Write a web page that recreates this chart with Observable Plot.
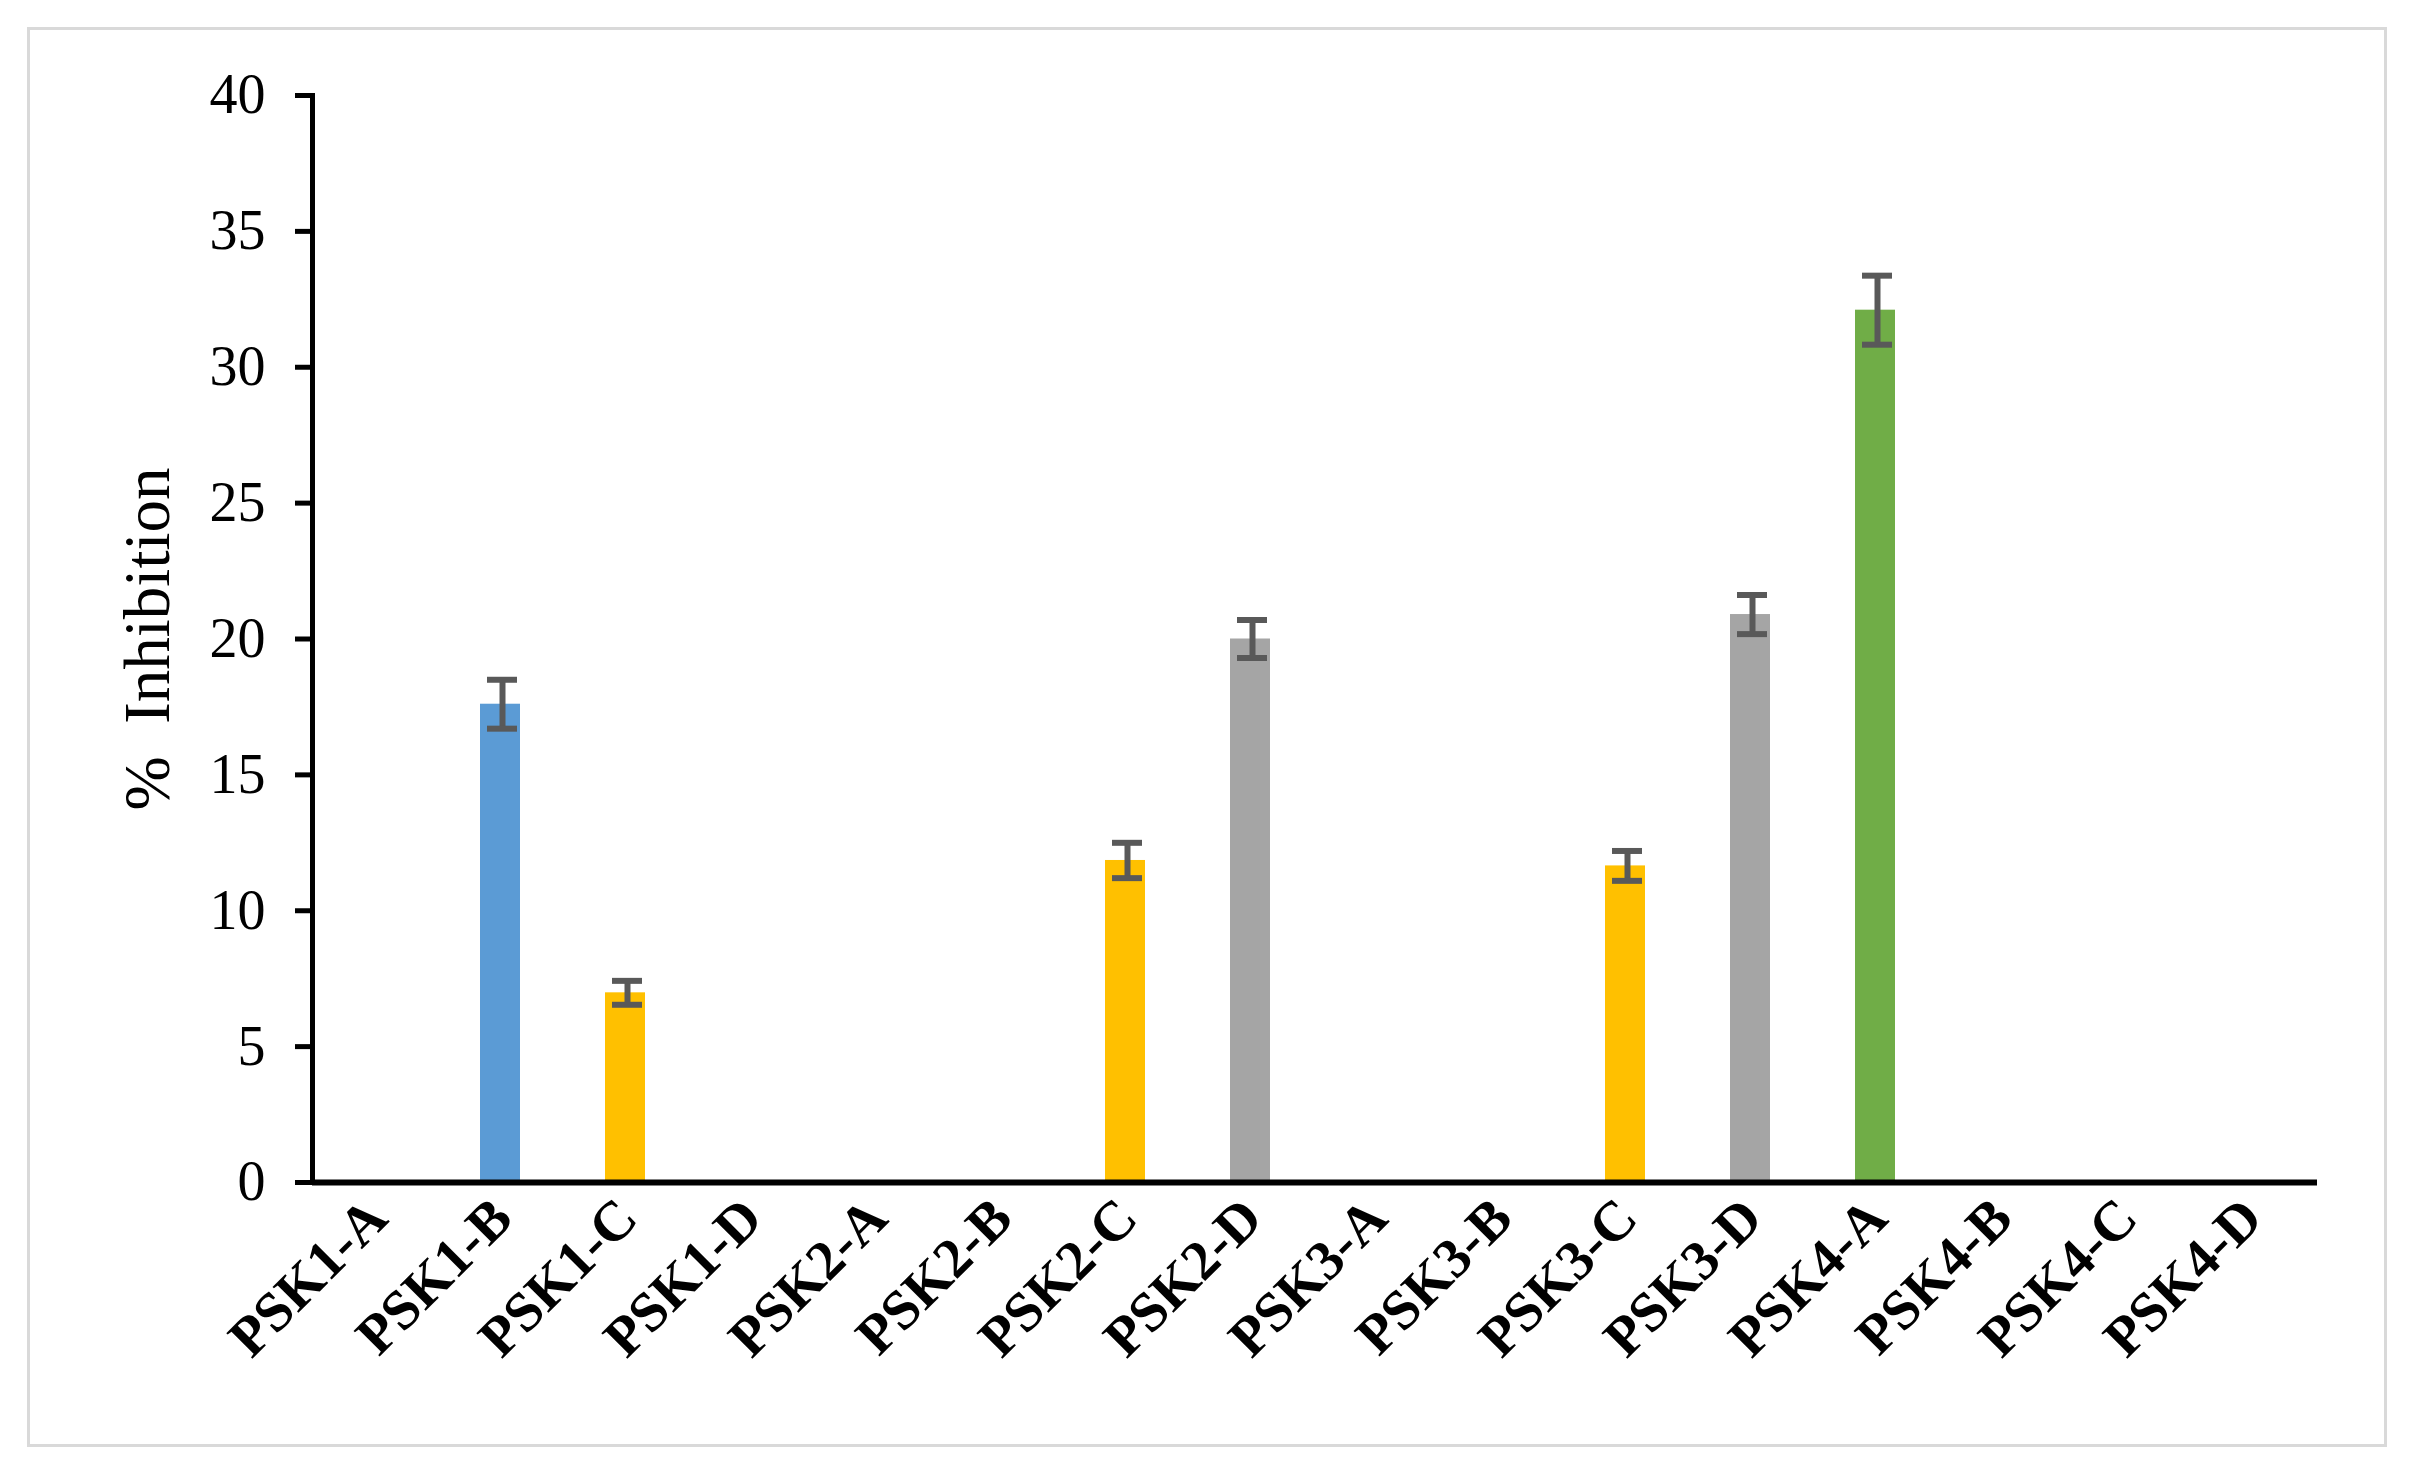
<!DOCTYPE html>
<html>
<head>
<meta charset="utf-8">
<script src="https://cdn.jsdelivr.net/npm/d3@7"></script>
<script src="https://cdn.jsdelivr.net/npm/@observablehq/plot@0.6"></script>
<style>
  html, body { margin: 0; padding: 0; background: #fff; }
  #wrap { position: relative; width: 2414px; height: 1468px; }
  #border { position: absolute; left: 27px; top: 27px; width: 2354px; height: 1414px; border: 3px solid #d9d9d9; }
  #chart { position: absolute; left: 0; top: 0; }
</style>
</head>
<body>
<div id="wrap"><div id="border"></div><div id="chart"></div></div>
<script>
const categories = ["PSK1-A","PSK1-B","PSK1-C","PSK1-D","PSK2-A","PSK2-B","PSK2-C","PSK2-D",
                    "PSK3-A","PSK3-B","PSK3-C","PSK3-D","PSK4-A","PSK4-B","PSK4-C","PSK4-D"];
const values = [0, 17.6, 6.98, 0, 0, 0, 11.85, 20.0, 0, 0, 11.65, 20.9, 32.1, 0, 0, 0];
const errors = [null, 0.9, 0.44, null, null, null, 0.65, 0.7, null, null, 0.55, 0.72, 1.27, null, null, null];
const groups = ["A","B","C","D"];
const groupColors = ["#70ad47","#5b9bd5","#ffc000","#a5a5a5"];
const yTicks = [0, 5, 10, 15, 20, 25, 30, 35, 40];
const yLabel = "%  Inhibition";

const data = categories.map((c, i) => ({
  cat: c, value: values[i], err: errors[i], group: c.slice(-1)
}));
const withErr = data.filter(d => d.err != null);
const serif = "'Liberation Serif', 'Times New Roman', serif";

const plot = Plot.plot({
  width: 2414,
  height: 1468,
  marginLeft: 312,
  marginRight: 97,
  marginTop: 95,
  marginBottom: 286,
  style: { fontFamily: serif, fontSize: "56px", background: "transparent", color: "#000" },
  x: { domain: categories, paddingInner: 0.68, paddingOuter: 0.34, label: null },
  y: { domain: [0, 40], label: null },
  color: { domain: groups, range: groupColors },
  marks: [
    Plot.barY(data.filter(d => d.value > 0), { x: "cat", y: "value", fill: "group", dx: -2 }),
    Plot.ruleX(withErr, { x: "cat", y1: d => d.value - d.err, y2: d => d.value + d.err, stroke: "#595959", strokeWidth: 6 }),
    Plot.tickY(withErr, { x: "cat", y: d => d.value + d.err, stroke: "#595959", strokeWidth: 6, insetLeft: 5, insetRight: 5 }),
    Plot.tickY(withErr, { x: "cat", y: d => d.value - d.err, stroke: "#595959", strokeWidth: 6, insetLeft: 5, insetRight: 5 }),
    Plot.axisY({ ticks: yTicks, tickSize: 17, tickPadding: 30, strokeWidth: 5, stroke: "#000", fontSize: 56,
                 label: yLabel, labelAnchor: "center", labelArrow: "none", labelOffset: 190 }),
    Plot.axisX({ tickSize: 0, tickPadding: 26, tickRotate: -45, fontWeight: "bold", fontSize: 56, label: null }),
    Plot.frame({ anchor: "left", stroke: "#000", strokeWidth: 5 }),
    Plot.ruleY([0], { stroke: "#000", strokeWidth: 6 })
  ]
});
// enlarge only the y-axis title text
plot.querySelectorAll("[aria-label='y-axis label'] text").forEach(t => t.setAttribute("font-size", 65));
document.getElementById("chart").appendChild(plot);
</script>
</body>
</html>
